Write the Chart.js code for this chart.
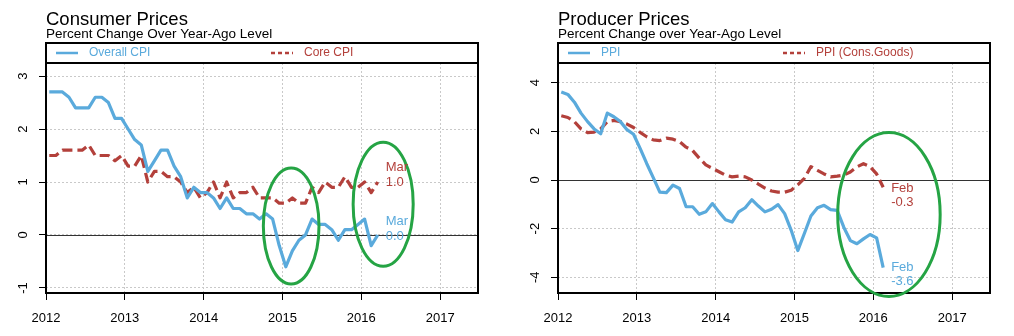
<!DOCTYPE html>
<html>
<head>
<meta charset="utf-8">
<script src="https://cdn.jsdelivr.net/npm/chart.js@4.4.0/dist/chart.umd.min.js"></script>
<style>
  body { margin: 0; background: #fff; width: 1014px; height: 336px; overflow: hidden; }
  .panel { position: absolute; top: 0; width: 507px; height: 336px; }
</style>
</head>
<body>
<div class="panel" style="left:0"><canvas id="cpiChart" width="507" height="336"></canvas></div>
<div class="panel" style="left:507px"><canvas id="ppiChart" width="507" height="336"></canvas></div>
<script>
// monthly year-over-year % changes
const yearTicks = [2012, 2013, 2014, 2015, 2016, 2017];
const cpiTicks = [-1, 0, 1, 2, 3];
const ppiTicks = [-4, -2, 0, 2, 4];

// Jan 2012 .. Mar 2016
const overallCpi = [2.7, 2.7, 2.7, 2.6, 2.4, 2.4, 2.4, 2.6, 2.6, 2.5, 2.2, 2.2,
  2.0, 1.8, 1.7, 1.2, 1.4, 1.6, 1.6, 1.3, 1.1, 0.7, 0.9, 0.8,
  0.8, 0.7, 0.5, 0.7, 0.5, 0.5, 0.4, 0.4, 0.3, 0.4, 0.3, -0.2,
  -0.6, -0.3, -0.1, 0.0, 0.3, 0.2, 0.2, 0.1, -0.1, 0.1, 0.1, 0.2,
  0.3, -0.2, 0.0];
const coreCpi = [1.5, 1.5, 1.6, 1.6, 1.6, 1.6, 1.7, 1.5, 1.5, 1.5, 1.4, 1.5,
  1.3, 1.3, 1.5, 1.0, 1.2, 1.2, 1.1, 1.1, 1.0, 0.8, 0.9, 0.7,
  0.8, 1.0, 0.7, 1.0, 0.7, 0.8, 0.8, 0.9, 0.7, 0.7, 0.7, 0.6,
  0.6, 0.7, 0.6, 0.6, 0.9, 0.8, 1.0, 0.9, 0.9, 1.1, 0.9, 0.9,
  1.0, 0.8, 1.0];

// Jan 2012 .. Feb 2016
const ppi = [3.62, 3.52, 3.2, 2.75, 2.4, 2.1, 1.9, 2.75, 2.6, 2.4, 2.07, 1.88,
  1.3, 0.68, 0.1, -0.5, -0.52, -0.21, -0.35, -1.1, -1.1, -1.41, -1.31, -0.97,
  -1.31, -1.63, -1.73, -1.31, -1.14, -0.81, -1.07, -1.31, -1.2, -1.01, -1.38, -2.07,
  -2.9, -2.2, -1.48, -1.14, -1.04, -1.22, -1.25, -1.94, -2.49, -2.62, -2.42, -2.24,
  -2.38, -3.6];
const ppiConsGoods = [2.64, 2.57, 2.4, 2.1, 1.95, 1.97, 2.1, 2.4, 2.45, 2.4, 2.3, 2.16,
  1.96, 1.78, 1.65, 1.62, 1.72, 1.68, 1.58, 1.35, 1.21, 0.9, 0.62, 0.48,
  0.34, 0.2, 0.13, 0.16, 0.13, 0.0, -0.17, -0.33, -0.45, -0.5, -0.5, -0.42,
  -0.2, 0.07, 0.55, 0.4, 0.25, 0.13, 0.16, 0.2, 0.33, 0.54, 0.67, 0.55,
  0.25, -0.3];

const BLUE = '#5aaadc';
const RED = '#b3403b';
const GREEN = '#25a444';

Chart.defaults.font.family = '"Liberation Sans", Arial, sans-serif';
Chart.defaults.color = '#000';

function monthRange(year, count) {
  const out = [];
  for (let i = 0; i < count; i++) {
    out.push((year + Math.floor(i / 12)) + '-' + String(i % 12 + 1).padStart(2, '0'));
  }
  return out;
}

function toYear(s) {
  const [y, m] = s.split('-').map(Number);
  return y + (m - 0.5) / 12;
}

function points(values) {
  const months = monthRange(2012, values.length);
  return values.map((v, i) => ({x: toYear(months[i]), y: v}));
}

function makePanel(id, cfg) {
  const frameTop = 43;
  const grid = {color: '#c9c9c9', lineWidth: 1, tickLength: 7, tickColor: '#000', tickWidth: 1, tickBorderDash: []};

  const decor = {
    id: 'decor',
    beforeDatasetsDraw(chart) {
      const {ctx, chartArea: a, scales: {y}} = chart;
      const y0 = Math.round(y.getPixelForValue(0)) + 0.5;
      ctx.save();
      ctx.strokeStyle = '#333';
      ctx.lineWidth = 1.2;
      ctx.beginPath();
      ctx.moveTo(a.left, y0);
      ctx.lineTo(a.right, y0);
      ctx.stroke();
      ctx.restore();
    },
    afterDraw(chart) {
      const {ctx, chartArea: a, scales: {x, y}} = chart;
      ctx.save();

      // titles
      ctx.fillStyle = '#000';
      ctx.textAlign = 'left';
      ctx.textBaseline = 'alphabetic';
      ctx.font = '18.5px "Liberation Sans", Arial, sans-serif';
      ctx.fillText(cfg.title, a.left, 25);
      ctx.font = '13.5px "Liberation Sans", Arial, sans-serif';
      ctx.fillText(cfg.subtitle, a.left, 38);

      // rotated y labels
      ctx.font = '13px "Liberation Sans", Arial, sans-serif';
      y.ticks.forEach(t => {
        ctx.save();
        ctx.translate(a.left - 23, y.getPixelForValue(t.value));
        ctx.rotate(-Math.PI / 2);
        ctx.textAlign = 'center';
        ctx.textBaseline = 'middle';
        ctx.fillText(String(t.value), 0, 0);
        ctx.restore();
      });

      // frame + legend strip
      ctx.strokeStyle = '#000';
      ctx.lineWidth = 2;
      ctx.strokeRect(a.left, frameTop, a.right - a.left, a.bottom - frameTop);
      ctx.beginPath();
      ctx.moveTo(a.left, a.top);
      ctx.lineTo(a.right, a.top);
      ctx.stroke();

      const ly = (frameTop + a.top) / 2;
      ctx.font = '12px "Liberation Sans", Arial, sans-serif';
      ctx.textBaseline = 'middle';
      [10, 225].forEach((off, i) => {
        const s = cfg.series[i];
        ctx.strokeStyle = s.color;
        ctx.lineWidth = 2.5;
        ctx.setLineDash(s.dash ? [4, 3] : []);
        ctx.beginPath();
        ctx.moveTo(a.left + off, ly);
        ctx.lineTo(a.left + off + 22, ly);
        ctx.stroke();
        ctx.setLineDash([]);
        ctx.fillStyle = s.color;
        ctx.fillText(s.label, a.left + off + 33, ly);
      });

      // highlight ellipses
      ctx.strokeStyle = GREEN;
      ctx.lineWidth = 3;
      cfg.ellipses.forEach(e => {
        const cx = x.getPixelForValue(e.cx), cy = y.getPixelForValue(e.cy);
        const rx = x.getPixelForValue(e.cx + e.rx) - cx;
        const ry = cy - y.getPixelForValue(e.cy + e.ry);
        ctx.beginPath();
        ctx.ellipse(cx, cy, rx, ry, 0, 0, Math.PI * 2);
        ctx.stroke();
      });

      // end-of-series labels
      ctx.font = '13px "Liberation Sans", Arial, sans-serif';
      cfg.series.forEach(s => {
        const pts = points(s.values);
        const last = pts[pts.length - 1];
        const px = x.getPixelForValue(last.x) + 8;
        const py = y.getPixelForValue(last.y);
        ctx.fillStyle = s.color;
        ctx.fillText(cfg.endMonth, px, py + s.labelOffset[0]);
        ctx.fillText(last.y.toFixed(1), px, py + s.labelOffset[1]);
      });

      ctx.restore();
    }
  };

  new Chart(document.getElementById(id), {
    type: 'line',
    data: {
      datasets: cfg.series.map(s => ({
        label: s.label,
        data: points(s.values),
        borderColor: s.color,
        borderWidth: 3.2,
        borderDash: s.dash ? [10, 5] : [],
        pointRadius: 0,
        tension: 0,
        borderJoinStyle: 'round',
        fill: false
      }))
    },
    options: {
      responsive: false,
      animation: false,
      layout: {padding: {top: 63, right: 507 - cfg.plotRight, left: 0, bottom: 0}},
      plugins: {legend: {display: false}, tooltip: {enabled: false}},
      scales: {
        x: {
          type: 'linear',
          min: 2012,
          max: cfg.xMax,
          afterBuildTicks: s => { s.ticks = yearTicks.map(v => ({value: v})); },
          afterFit: s => { s.height = 43; },
          ticks: {color: '#000', font: {size: 13}, padding: 11, maxRotation: 0, callback: v => String(v)},
          grid: grid,
          border: {display: false, dash: [2, 2]}
        },
        y: {
          min: cfg.yMin,
          max: cfg.yMax,
          afterBuildTicks: s => { s.ticks = cfg.yTicks.map(v => ({value: v})); },
          afterFit: s => { s.width = cfg.plotLeft; },
          ticks: {display: false},
          grid: grid,
          border: {display: false, dash: [2, 2]}
        }
      }
    },
    plugins: [decor]
  });
}

makePanel('cpiChart', {
  title: 'Consumer Prices',
  subtitle: 'Percent Change Over Year-Ago Level',
  plotLeft: 46, plotRight: 478,
  xMax: 2017.48, yMin: -1.095, yMax: 3.246, yTicks: cpiTicks,
  endMonth: 'Mar',
  series: [
    {label: 'Overall CPI', values: overallCpi, color: BLUE, dash: false, labelOffset: [-14, 1]},
    {label: 'Core CPI', values: coreCpi, color: RED, dash: true, labelOffset: [-15, 0]}
  ],
  ellipses: [
    {cx: 2015.11, cy: 0.17, rx: 0.353, ry: 1.095},
    {cx: 2016.277, cy: 0.58, rx: 0.381, ry: 1.17}
  ]
});

makePanel('ppiChart', {
  title: 'Producer Prices',
  subtitle: 'Percent Change over Year-Ago Level',
  plotLeft: 51, plotRight: 483,
  xMax: 2017.48, yMin: -4.645, yMax: 4.81, yTicks: ppiTicks,
  endMonth: 'Feb',
  series: [
    {label: 'PPI', values: ppi, color: BLUE, dash: false, labelOffset: [0, 14]},
    {label: 'PPI (Cons.Goods)', values: ppiConsGoods, color: RED, dash: true, labelOffset: [1, 15]}
  ],
  ellipses: [
    {cx: 2016.198, cy: -1.42, rx: 0.65, ry: 3.37}
  ]
});
</script>
</body>
</html>
